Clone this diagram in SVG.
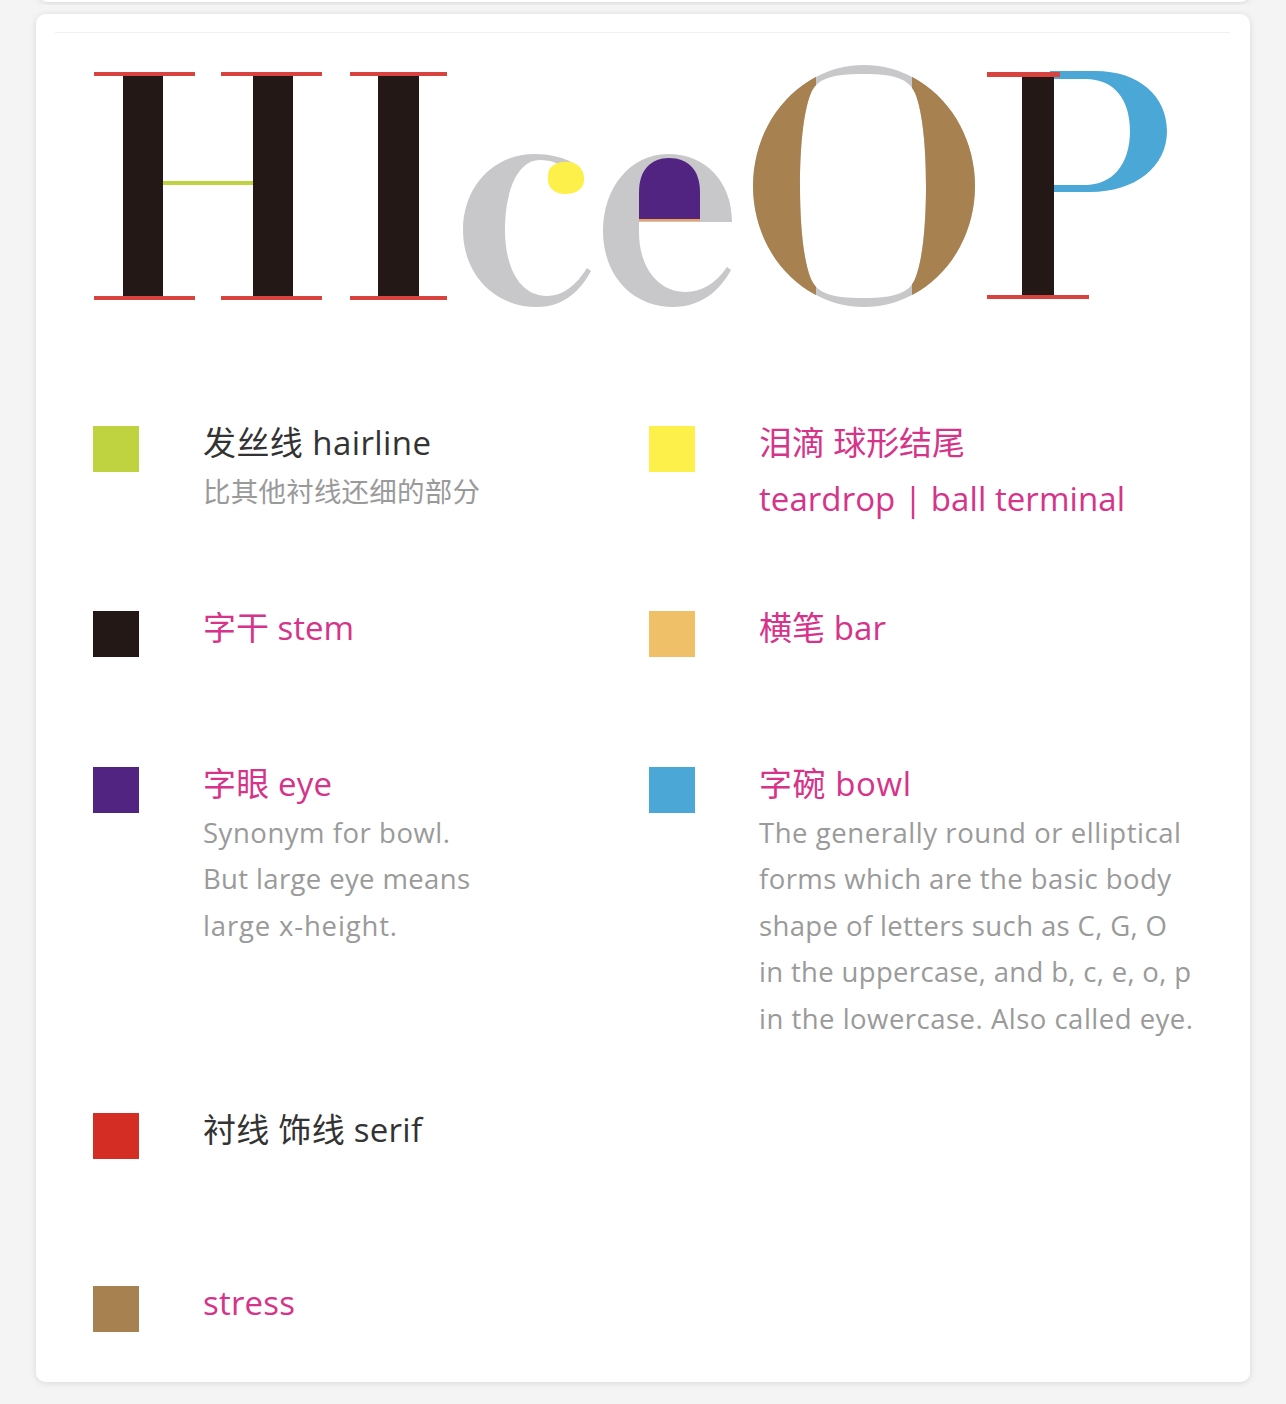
<svg xmlns="http://www.w3.org/2000/svg" width="1286" height="1404" viewBox="0 0 1286 1404">
<defs>
<filter id="sh" x="-5%" y="-5%" width="110%" height="110%">
<feDropShadow dx="0" dy="1" stdDeviation="3" flood-color="#000" flood-opacity="0.12"/>
</filter>
<clipPath id="oside"><rect x="700" y="40" width="116" height="300"/><rect x="912" y="40" width="100" height="300"/><rect x="816" y="100" width="96" height="172"/></clipPath>
<path id="oring" fill-rule="evenodd" d="M 864,65 A 111,121 0 1 0 864.01,65 Z M 863,74 C 895,74 909,79 915,93 C 923,112 926,150 926,186 C 926,222 923,260 915,279 C 909,293 895,298 863,298 C 831,298 817,293 811,279 C 803,260 800,222 800,186 C 800,150 803,112 811,93 C 817,79 831,74 863,74 Z"/>
</defs>
<style>
.t{font-family:"Open Sans","Noto Sans CJK SC",sans-serif;}
.h{font-size:33px;}
.d{font-size:27.5px;fill:#9a9a9a;}
.pk{fill:#d6338a;}
.dk{fill:#333333;}
.stem{fill:#231815;}
.serif{fill:#d9433f;}
.gray{fill:#c8c8ca;}
</style>
<rect x="0" y="0" width="1286" height="1404" fill="#f4f4f4"/>
<rect x="38" y="-40" width="1212" height="42" rx="10" fill="#ffffff" filter="url(#sh)"/>
<rect x="36" y="14" width="1214" height="1368" rx="10" fill="#ffffff" filter="url(#sh)"/>
<line x1="55" y1="32.5" x2="1230" y2="32.5" stroke="#efefef" stroke-width="1"/>

<g id="letters">
<g id="letter-H">
<rect class="stem" x="123" y="75" width="40" height="222"/>
<rect class="stem" x="253" y="75" width="40" height="222"/>
<rect x="163" y="181" width="90" height="4" fill="#bfd23f"/>
<rect class="serif" x="94" y="72" width="101" height="4"/>
<rect class="serif" x="221" y="72" width="101" height="4"/>
<rect class="serif" x="94" y="296" width="101" height="4"/>
<rect class="serif" x="221" y="296" width="101" height="4"/>
</g>
<g id="letter-I">
<rect class="stem" x="378" y="75" width="41" height="222"/>
<rect class="serif" x="350" y="72" width="97" height="4"/>
<rect class="serif" x="350" y="296" width="97" height="4"/>
</g>
<g id="letter-c">
<path class="gray" d="M 578,166 C 565,157 549,154 535,154 C 493,154 463,187 463,230 C 463,275 495,307 537,307 C 560,307 578,295 591,271 L 587,268 C 576,286 562,296 547,296 C 520,296 505,268 505,230 C 505,190 518,160 540,160 C 552,160 560,164 566,170 Z"/>
<path fill="#fef04a" d="M 549,170 C 553,163 562,161 570,162 C 580,164 585,172 584,181 C 583,190 575,194 565,194 C 555,194 548,188 548,180 C 548,176 548,173 549,170 Z"/>
</g>
<g id="letter-e">
<path class="gray" d="M 732,222 C 732,182 706,154 668,154 C 630,154 603,188 603,231 C 603,275 632,307 673,307 C 700,307 719,292 731,270 L 727,267 C 716,283 702,292 686,292 C 657,292 639,266 639,232 L 639,222 Z"/>
<path fill="#522482" d="M 639,220 L 639,192 C 639,170 651,158 669,158 C 688,158 700,170 700,192 L 700,220 Z"/>
<rect x="639" y="219" width="61" height="2" fill="#f0a050"/>
</g>
<g id="letter-O">
<use href="#oring" class="gray"/>
<use href="#oring" fill="#a88150" clip-path="url(#oside)"/>
</g>
<g id="letter-P">
<path fill="#4aa7d6" fill-rule="evenodd" d="M 1050,71 L 1095,71 C 1140,71 1167,97 1167,131 C 1167,167 1135,192 1090,192 L 1050,192 Z M 1050,79 L 1085,79 C 1115,79 1130,100 1130,131 C 1130,165 1112,185 1085,185 L 1050,185 Z"/>
<rect class="stem" x="1022" y="75" width="32" height="222"/>
<rect class="serif" x="987" y="72" width="73" height="5"/>
<rect class="serif" x="987" y="295" width="102" height="4"/>
</g>
</g>

<g id="connectors"></g>

<g id="item-hairline">
<rect x="93" y="426" width="46" height="46" fill="#bfd23f"/>
<text class="t h dk" x="203" y="455" textLength="228" lengthAdjust="spacing">发丝线 hairline</text>
<text class="t d" x="203" y="502" textLength="277" lengthAdjust="spacing">比其他衬线还细的部分</text>
</g>
<g id="item-teardrop">
<rect x="649" y="426" width="46" height="46" fill="#fef04a"/>
<text class="t h pk" x="759" y="455" textLength="206" lengthAdjust="spacing">泪滴 球形结尾</text>
<text class="t h pk" x="759" y="511" textLength="366" lengthAdjust="spacing">teardrop | ball terminal</text>
</g>
<g id="item-stem">
<rect x="93" y="611" width="46" height="46" fill="#231815"/>
<text class="t h pk" x="203" y="640" textLength="151" lengthAdjust="spacing">字干 stem</text>
</g>
<g id="item-bar">
<rect x="649" y="611" width="46" height="46" fill="#f0c068"/>
<text class="t h pk" x="759" y="640" textLength="127" lengthAdjust="spacing">横笔 bar</text>
</g>
<g id="item-eye">
<rect x="93" y="767" width="46" height="46" fill="#522482"/>
<text class="t h pk" x="203" y="796" textLength="129" lengthAdjust="spacing">字眼 eye</text>
<text class="t d" x="203" y="843" textLength="247" lengthAdjust="spacing">Synonym for bowl.</text>
<text class="t d" x="203" y="889" textLength="267" lengthAdjust="spacing">But large eye means</text>
<text class="t d" x="203" y="936" textLength="194" lengthAdjust="spacing">large x-height.</text>
</g>
<g id="item-bowl">
<rect x="649" y="767" width="46" height="46" fill="#4aa7d6"/>
<text class="t h pk" x="759" y="796" textLength="152" lengthAdjust="spacing">字碗 bowl</text>
<text class="t d" x="759" y="843" textLength="422" lengthAdjust="spacing">The generally round or elliptical</text>
<text class="t d" x="759" y="889" textLength="412" lengthAdjust="spacing">forms which are the basic body</text>
<text class="t d" x="759" y="936" textLength="408" lengthAdjust="spacing">shape of letters such as C, G, O</text>
<text class="t d" x="759" y="982" textLength="432" lengthAdjust="spacing">in the uppercase, and b, c, e, o, p</text>
<text class="t d" x="759" y="1029" textLength="434" lengthAdjust="spacing">in the lowercase. Also called eye.</text>
</g>
<g id="item-serif">
<rect x="93" y="1113" width="46" height="46" fill="#d42d24"/>
<text class="t h dk" x="203" y="1142" textLength="219" lengthAdjust="spacing">衬线 饰线 serif</text>
</g>
<g id="item-stress">
<rect x="93" y="1286" width="46" height="46" fill="#a88150"/>
<text class="t h pk" x="203" y="1315" textLength="92" lengthAdjust="spacing">stress</text>
</g>
</svg>
